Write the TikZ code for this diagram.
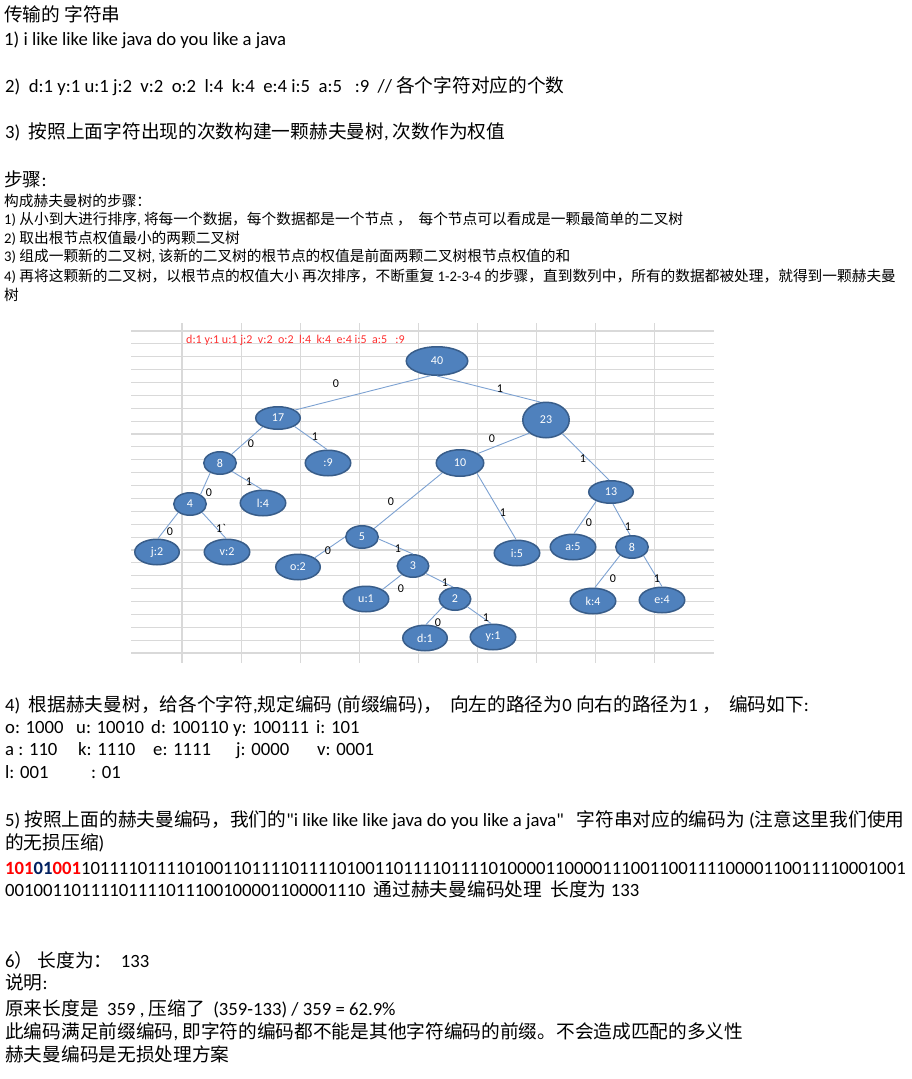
\documentclass[tikz,border=0pt]{standalone}
\usepackage{fontspec}
\setmainfont{Carlito}[Ligatures=TeXOff]
\newfontfamily\cjk{Noto Sans CJK SC}
\usetikzlibrary{shapes.geometric}
\newcommand\zh[1]{{\cjk #1}}
\definecolor{nodefill}{HTML}{4F81BD}
\definecolor{nodeline}{HTML}{385D8A}
\definecolor{edgecol}{HTML}{7DA2D2}
\definecolor{gridcol}{HTML}{D9D9D9}
\definecolor{redlab}{HTML}{FF3030}
\definecolor{codered}{HTML}{FF0000}
\definecolor{codeblue}{HTML}{002060}
\begin{document}
\begin{tikzpicture}[x=1pt,y=-1pt,
 big/.style={anchor=base west, inner sep=0pt, font=\fontsize{18.7}{22}\selectfont},
 small/.style={anchor=base west, inner sep=0pt, font=\fontsize{14.7}{18}\selectfont},
 hnode/.style 2 args={ellipse, draw=nodeline, line width=1.5pt, fill=nodefill, text=white,
   font=\fontsize{12}{14}\selectfont, inner sep=0pt, minimum width=#1pt, minimum height=#2pt},
 edge/.style={draw=edgecol, line width=0.9pt},
 elab/.style={font=\fontsize{12}{14}\selectfont, inner sep=0pt},
 gridline/.style={draw=gridcol, line width=1.1pt}]
\useasboundingbox[fill=white] (0,0) rectangle (912,1079);

% ---------- top text ----------
\node[big] (t0) at (4,21) {\zh{传输的} \zh{字符串}};
\node[big] (t1) at (4,45) {1) i like like like java do you like a java};
\node[big] (t2) at (5,92) {2)\ \ d:1 y:1 u:1 j:2\ \ v:2\ \ o:2\ \ l:4\ \ k:4\ \ e:4 i:5\ \ a:5\ \ \ :9\ \ // \zh{各个字符对应的个数}};
\node[big] (t3) at (5,138) {3)\ \ \zh{按照上面字符出现的次数构建一颗赫夫曼树}, \zh{次数作为权值}};
\node[big] (t4) at (4,186) {\zh{步骤}:};
\node[small] (s0) at (4,206) {\zh{构成赫夫曼树的步骤：}};
\node[small] (s1) at (4,224) {1) \zh{从小到大进行排序}, \zh{将每一个数据，每个数据都是一个节点} \zh{，}\ \ \zh{每个节点可以看成是一颗最简单的二叉树}};
\node[small] (s2) at (4,243) {2) \zh{取出根节点权值最小的两颗二叉树}};
\node[small] (s3) at (4,261) {3) \zh{组成一颗新的二叉树}, \zh{该新的二叉树的根节点的权值是前面两颗二叉树根节点权值的和}};
\node[small] (s4) at (4,281) {4) \zh{再将这颗新的二叉树，以根节点的权值大小} \zh{再次排序，不断重复} 1-2-3-4 \zh{的步骤，直到数列中，所有的数据都被处理，就得到一颗赫夫曼}};
\node[small] (s5) at (4,300) {\zh{树}};

% ---------- grid ----------
\foreach \i in {0,...,25} \draw[gridline] (131,{331+12.88*\i}) -- (714,{331+12.88*\i});
\foreach \k in {0,...,8} \draw[gridline] ({182+59.1*\k},323) -- ({182+59.1*\k},663);

\node[anchor=base west, inner sep=0pt, text=redlab, font=\fontsize{12}{14}\selectfont] (redl) at (186,343)
  {d:1 y:1 u:1 j:2\ \ v:2\ \ o:2\ \ l:4\ \ k:4\ \ e:4 i:5\ \ a:5\ \ \ :9};

% ---------- tree nodes ----------
\node[hnode={61.5}{28.5}] (n40) at (437,361) {40};
\node[hnode={44.5}{22.5}] (n17) at (278,418) {17};
\node[hnode={46.5}{35.5}] (n23) at (546,420) {23};
\node[hnode={32.5}{22.5}] (n8) at (220,463) {8};
\node[hnode={45.5}{25.5}] (n9) at (328,463) {:9};
\node[hnode={47.5}{26.5}] (n10) at (460,463) {10};
\node[hnode={32.5}{22.5}] (n4) at (190,504) {4};
\node[hnode={45.5}{25.5}] (nl4) at (263,503) {l:4};
\node[hnode={44.5}{22.5}] (n13) at (611,492) {13};
\node[hnode={44.5}{25.5}] (nj2) at (157,552) {j:2};
\node[hnode={45.5}{25.5}] (nv2) at (227,552) {v:2};
\node[hnode={32.5}{22.5}] (n5) at (362,537) {5};
\node[hnode={45.5}{25.5}] (ni5) at (517,553) {i:5};
\node[hnode={45.5}{25.5}] (na5) at (573,547) {a:5};
\node[hnode={32.5}{22.5}] (n8r) at (632,547) {8};
\node[hnode={44.5}{25.5}] (no2) at (298,567) {o:2};
\node[hnode={31.5}{22.5}] (n3) at (413,566) {3};
\node[hnode={45.5}{25.5}] (nu1) at (366,599) {u:1};
\node[hnode={31.5}{22.5}] (n2) at (455,599) {2};
\node[hnode={45.5}{25.5}] (nk4) at (593,601) {k:4};
\node[hnode={45.5}{25.5}] (ne4) at (662,600) {e:4};
\node[hnode={44.5}{25.5}] (nd1) at (425,638) {d:1};
\node[hnode={45.5}{25.5}] (ny1) at (493,637) {y:1};

% ---------- edges ----------
\draw[edge] (n40.246) -- (n17.25);
\draw[edge] (n40.270) -- (n23.108);
\draw[edge] (n17.210) -- (n8.37);
\draw[edge] (n17.333) -- (n9.94);
\draw[edge] (n8.225) -- (n4.42);
\draw[edge] (n8.325) -- (nl4.94);
\draw[edge] (n4.216) -- (nj2.86);
\draw[edge] (n4.325) -- (nv2.94);
\draw[edge] (n23.218) -- (n10.28);
\draw[edge] (n23.320) -- (n13.99);
\draw[edge] (n10.209) -- (n5.35);
\draw[edge] (n10.329) -- (ni5.94);
\draw[edge] (n13.212) -- (na5.86);
\draw[edge] (n13.279) -- (n8r.99);
\draw[edge] (n5.180) -- (no2.29);
\draw[edge] (n5.353) -- (n3.90);
\draw[edge] (n3.217) -- (nu1.30);
\draw[edge] (n3.330) -- (n2.99);
\draw[edge] (n2.213) -- (nd1.86);
\draw[edge] (n2.328) -- (ny1.98);
\draw[edge] (n8r.215) -- (nk4.82);
\draw[edge] (n8r.323) -- (ne4.90);

% ---------- edge labels ----------
\node[elab] (e1) at (336,384) {0};
\node[elab] (e2) at (500,389) {1};
\node[elab] (e3) at (251,444) {0};
\node[elab] (e4) at (315,437) {1};
\node[elab] (e5) at (209,493) {0};
\node[elab] (e6) at (249,482) {1};
\node[elab] (e7) at (170,532) {0};
\node[elab] (e8) at (221,528) {1`};
\node[elab] (e9) at (492,439) {0};
\node[elab] (e10) at (583,459) {1};
\node[elab] (e11) at (391,502) {0};
\node[elab] (e12) at (503,513) {1};
\node[elab] (e13) at (589,523) {0};
\node[elab] (e14) at (628,527) {1};
\node[elab] (e15) at (328,551) {0};
\node[elab] (e16) at (398,549) {1};
\node[elab] (e17) at (401,589) {0};
\node[elab] (e18) at (445,583) {1};
\node[elab] (e19) at (438,623) {0};
\node[elab] (e20) at (486,618) {1};
\node[elab] (e21) at (613,579) {0};
\node[elab] (e22) at (657,579) {1};

% ---------- bottom text ----------
\node[big] (b0) at (5,711) {4)\ \ \zh{根据赫夫曼树，给各个字符},\zh{规定编码} (\zh{前缀编码})\zh{，}\ \ \zh{向左的路径为}0 \zh{向右的路径为}1 \zh{，}\ \ \zh{编码如下}:};
\node[big] (c1) at (5,733) {o: 1000};
\node[big] (c2) at (76,733) {u: 10010};
\node[big] (c3) at (151,733) {d: 100110};
\node[big] (c4) at (233,733) {y: 100111};
\node[big] (c5) at (316,733) {i: 101};
\node[big] (c6) at (5,755) {a : 110};
\node[big] (c7) at (78,755) {k: 1110};
\node[big] (c8) at (153,755) {e: 1111};
\node[big] (c9) at (236,755) {j: 0000};
\node[big] (c10) at (317,755) {v: 0001};
\node[big] (c11) at (5,778) {l: 001};
\node[big] (c12) at (91,778) {: 01};
\node[big] (b1) at (5,826) {5) \zh{按照上面的赫夫曼编码，我们的}"i like like like java do you like a java"\ \ \ \zh{字符串对应的编码为} (\zh{注意这里我们使用}};
\node[big] (b2) at (5,849) {\zh{的无损压缩})};
\node[big] (b3) at (5,874) {\textbf{\color{codered}101\color{codeblue}01\color{codered}001}101111011110100110111101111010011011110111101000011000011100110011110000110011110001001};
\node[big] (b4) at (5,896) {00100110111101111011100100001100001110\ \ \zh{通过赫夫曼编码处理}\ \ \zh{长度为} 133};
\node[big] (b5) at (5,967) {6\zh{）}\ \zh{长度为：}\ \ 133};
\node[big] (b6) at (5,989) {\zh{说明}:};
\node[big] (b7) at (5,1015) {\zh{原来长度是}\ \ 359 , \zh{压缩了}\ \ (359-133) / 359 = 62.9\%};
\node[big] (b8) at (5,1038) {\zh{此编码满足前缀编码}, \zh{即字符的编码都不能是其他字符编码的前缀。不会造成匹配的多义性}};
\node[big] (b9) at (5,1061) {\zh{赫夫曼编码是无损处理方案}};
\end{tikzpicture}
\end{document}
